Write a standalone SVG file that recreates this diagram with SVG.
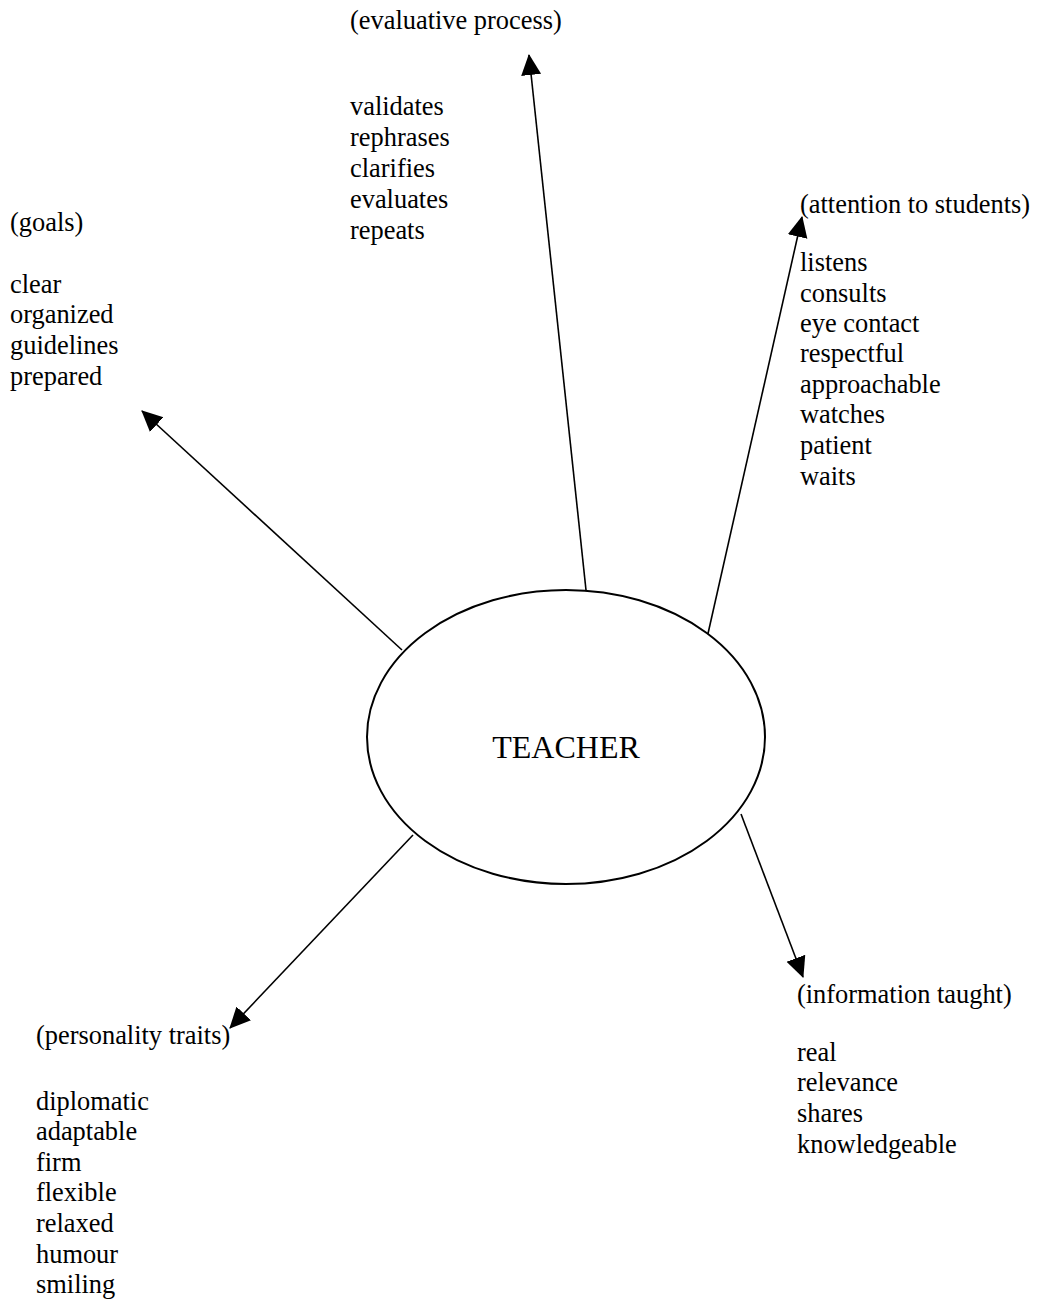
<svg xmlns="http://www.w3.org/2000/svg" width="1040" height="1301" viewBox="0 0 1040 1301">
<style>
text{font-family:"Liberation Serif","Times New Roman",serif;font-size:26.4px;fill:#000}
.c{stroke:#000;stroke-width:1.6;fill:none}
.t{font-size:32px}
</style>
<defs>
<marker id="ah" markerUnits="userSpaceOnUse" markerWidth="22" markerHeight="22" refX="20" refY="10" orient="auto" viewBox="0 0 22 20">
<path d="M0,0 L21,10 L0,20 z" fill="#000"/>
</marker>
</defs>
<rect width="1040" height="1301" fill="#fff"/>
<g id="connectors">
<line class="c" x1="586" y1="590" x2="529" y2="55" marker-end="url(#ah)"/>
<line class="c" x1="402" y1="650" x2="142" y2="411" marker-end="url(#ah)"/>
<line class="c" x1="707" y1="638" x2="802" y2="217" marker-end="url(#ah)"/>
<line class="c" x1="741" y1="814" x2="803" y2="977" marker-end="url(#ah)"/>
<line class="c" x1="413" y1="835" x2="230" y2="1028" marker-end="url(#ah)"/>
</g>
<g id="teacher">
<ellipse cx="566" cy="737" rx="199" ry="147" fill="#fff" stroke="#000" stroke-width="2"/>
<text class="t" x="566" y="758" text-anchor="middle">TEACHER</text>
</g>
<g id="evaluative">
<text x="350" y="29">(evaluative process)</text>
<text x="350" y="115">validates</text>
<text x="350" y="146">rephrases</text>
<text x="350" y="177">clarifies</text>
<text x="350" y="208">evaluates</text>
<text x="350" y="239">repeats</text>
</g>
<g id="goals">
<text x="10" y="231">(goals)</text>
<text x="10" y="293">clear</text>
<text x="10" y="323">organized</text>
<text x="10" y="354">guidelines</text>
<text x="10" y="385">prepared</text>
</g>
<g id="attention">
<text x="800" y="213">(attention to students)</text>
<text x="800" y="271">listens</text>
<text x="800" y="302">consults</text>
<text x="800" y="332">eye contact</text>
<text x="800" y="362">respectful</text>
<text x="800" y="393">approachable</text>
<text x="800" y="423">watches</text>
<text x="800" y="454">patient</text>
<text x="800" y="485">waits</text>
</g>
<g id="information">
<text x="797" y="1003">(information taught)</text>
<text x="797" y="1061">real</text>
<text x="797" y="1091">relevance</text>
<text x="797" y="1122">shares</text>
<text x="797" y="1153">knowledgeable</text>
</g>
<g id="personality">
<text x="36" y="1044">(personality traits)</text>
<text x="36" y="1110">diplomatic</text>
<text x="36" y="1140">adaptable</text>
<text x="36" y="1171">firm</text>
<text x="36" y="1201">flexible</text>
<text x="36" y="1232">relaxed</text>
<text x="36" y="1263">humour</text>
<text x="36" y="1293">smiling</text>
</g>
</svg>
